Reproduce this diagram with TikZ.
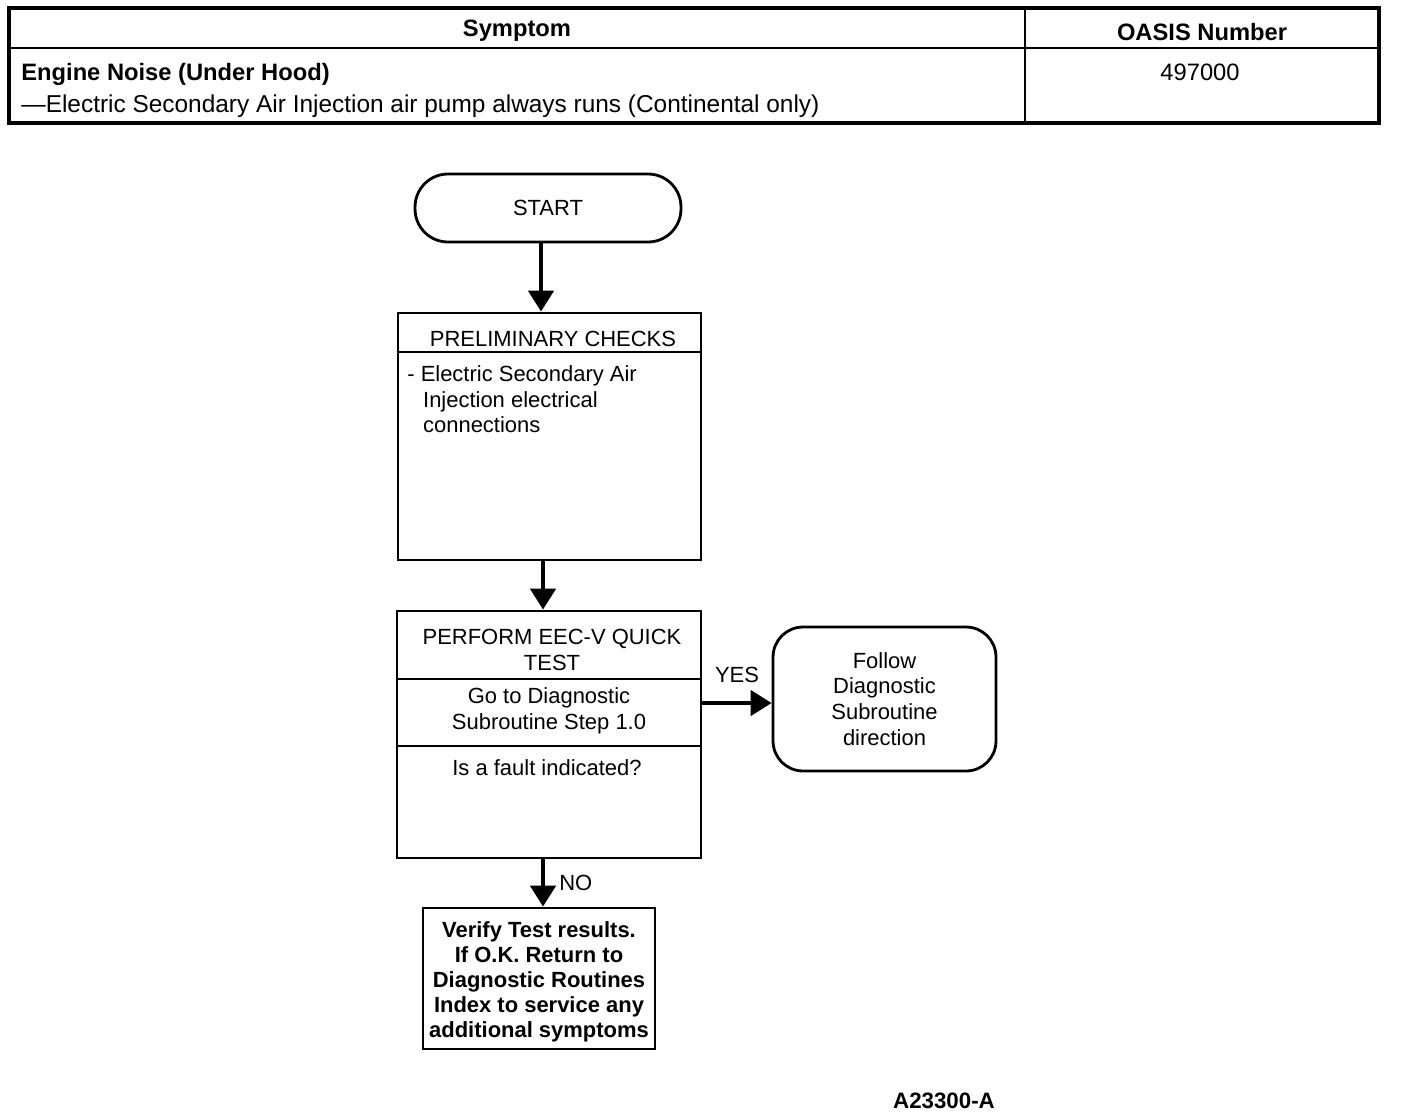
\documentclass[tikz,border=0pt]{standalone}
\usepackage{fontspec}
\setmainfont{Liberation Sans}
\usetikzlibrary{arrows.meta}

\begin{document}
\begin{tikzpicture}[x=0.02cm,y=-0.02cm,
  box/.style={draw,line width=1.6pt,inner sep=0pt,align=center,font=\fontsize{12.5}{14.7}\selectfont},
  flow/.style={line width=2.6pt,-{Triangle[width=0.5cm,length=0.42cm]}},
  txt/.style={font=\fontsize{12.5}{14.7}\selectfont,align=center,inner sep=0pt},
  tabhead/.style={font=\fontsize{13.5}{16}\selectfont\bfseries,inner sep=0pt}]

	      \useasboundingbox (0,0) rectangle (1408,1116);

	      % symptom table
	      \draw[line width=1.8pt] (9,8) rectangle (1379,123);
	      \draw[line width=1.6pt] (9,48) -- (1379,48);
	      \draw[line width=1.6pt] (1025,8) -- (1025,123);
	      \node[tabhead] at (517,31) (symptom) {Symptom};
	      \node[tabhead] at (1202,32) (oasis) {OASIS Number};
	      \node[tabhead,anchor=base west] at (21,80) (noise) {Engine Noise (Under Hood)};
	      \node[tabhead,font=\fontsize{13.9}{16}\selectfont,anchor=base west] at (21,112) (pump) {—Electric Secondary Air Injection air pump always runs (Continental only)};
	      \node[tabhead,font=\fontsize{13.5}{16}\selectfont] at (1200,72) (number) {497000};

	      % flow chart
	      \node[box,rounded corners=0.66cm,minimum width=5.32cm,minimum height=1.36cm] at (548,208) (start) {START};
	      \node[box,minimum width=6.06cm,minimum height=4.94cm] at (549.5,436.5) (prelim) {};
	      \node[box,minimum width=6.08cm,minimum height=4.94cm] at (549,734.5) (quick) {};
	      \node[box,rounded corners=0.6cm,minimum width=4.46cm,minimum height=2.88cm] at (884.5,699) (follow) {Follow\\Diagnostic\\Subroutine\\direction};
	      \node[box,font=\fontsize{12.5}{14.3}\selectfont\bfseries,minimum width=4.64cm,minimum height=2.82cm] at (539,978.5) (verify) {};
	      \node[txt,font=\fontsize{12.5}{14.3}\selectfont\bfseries] at (539,982) (verifytext) {Verify Test results.\\If O.K. Return to\\Diagnostic Routines\\Index to service any\\additional symptoms};

	      \draw[line width=1.6pt] (prelim.west |- 0,352) -- (prelim.east |- 0,352);
	      \draw[line width=1.6pt] (quick.west |- 0,679) -- (quick.east |- 0,679);
	      \draw[line width=1.6pt] (quick.west |- 0,746) -- (quick.east |- 0,746);

	      \node[txt] at (553,339) (prelimhead) {PRELIMINARY CHECKS};
	      \node[txt,align=left,anchor=north west] at (407,365) (prelimbody) {- Electric Secondary Air\\\hspace*{9pt}Injection electrical\\\hspace*{9pt}connections};
	      \node[txt] at (552,650) (quickhead) {PERFORM EEC-V QUICK\\TEST};
	      \node[txt] at (549,711) (quickgo) {Go to Diagnostic\\Subroutine Step 1.0};
	      \node[txt] at (547,768) (quickask) {Is a fault indicated?};

	      \path
	      (start.south -| 541,0) edge[flow] (prelim.north -| 541,0)
	      (prelim.south -| 543,0) edge[flow] (quick.north -| 543,0)
	      (quick.east |- 0,703) edge[flow] node[txt,above=10pt] {YES} (follow.west |- 0,703)
	      (quick.south -| 543,0) edge[flow] node[txt,right=8pt] {NO} (verify.north -| 543,0)
	      ;

	      \node[tabhead,font=\fontsize{12.7}{15}\selectfont\bfseries] at (944,1101) (figure) {A23300-A};

	    \end{tikzpicture}
\end{document}
